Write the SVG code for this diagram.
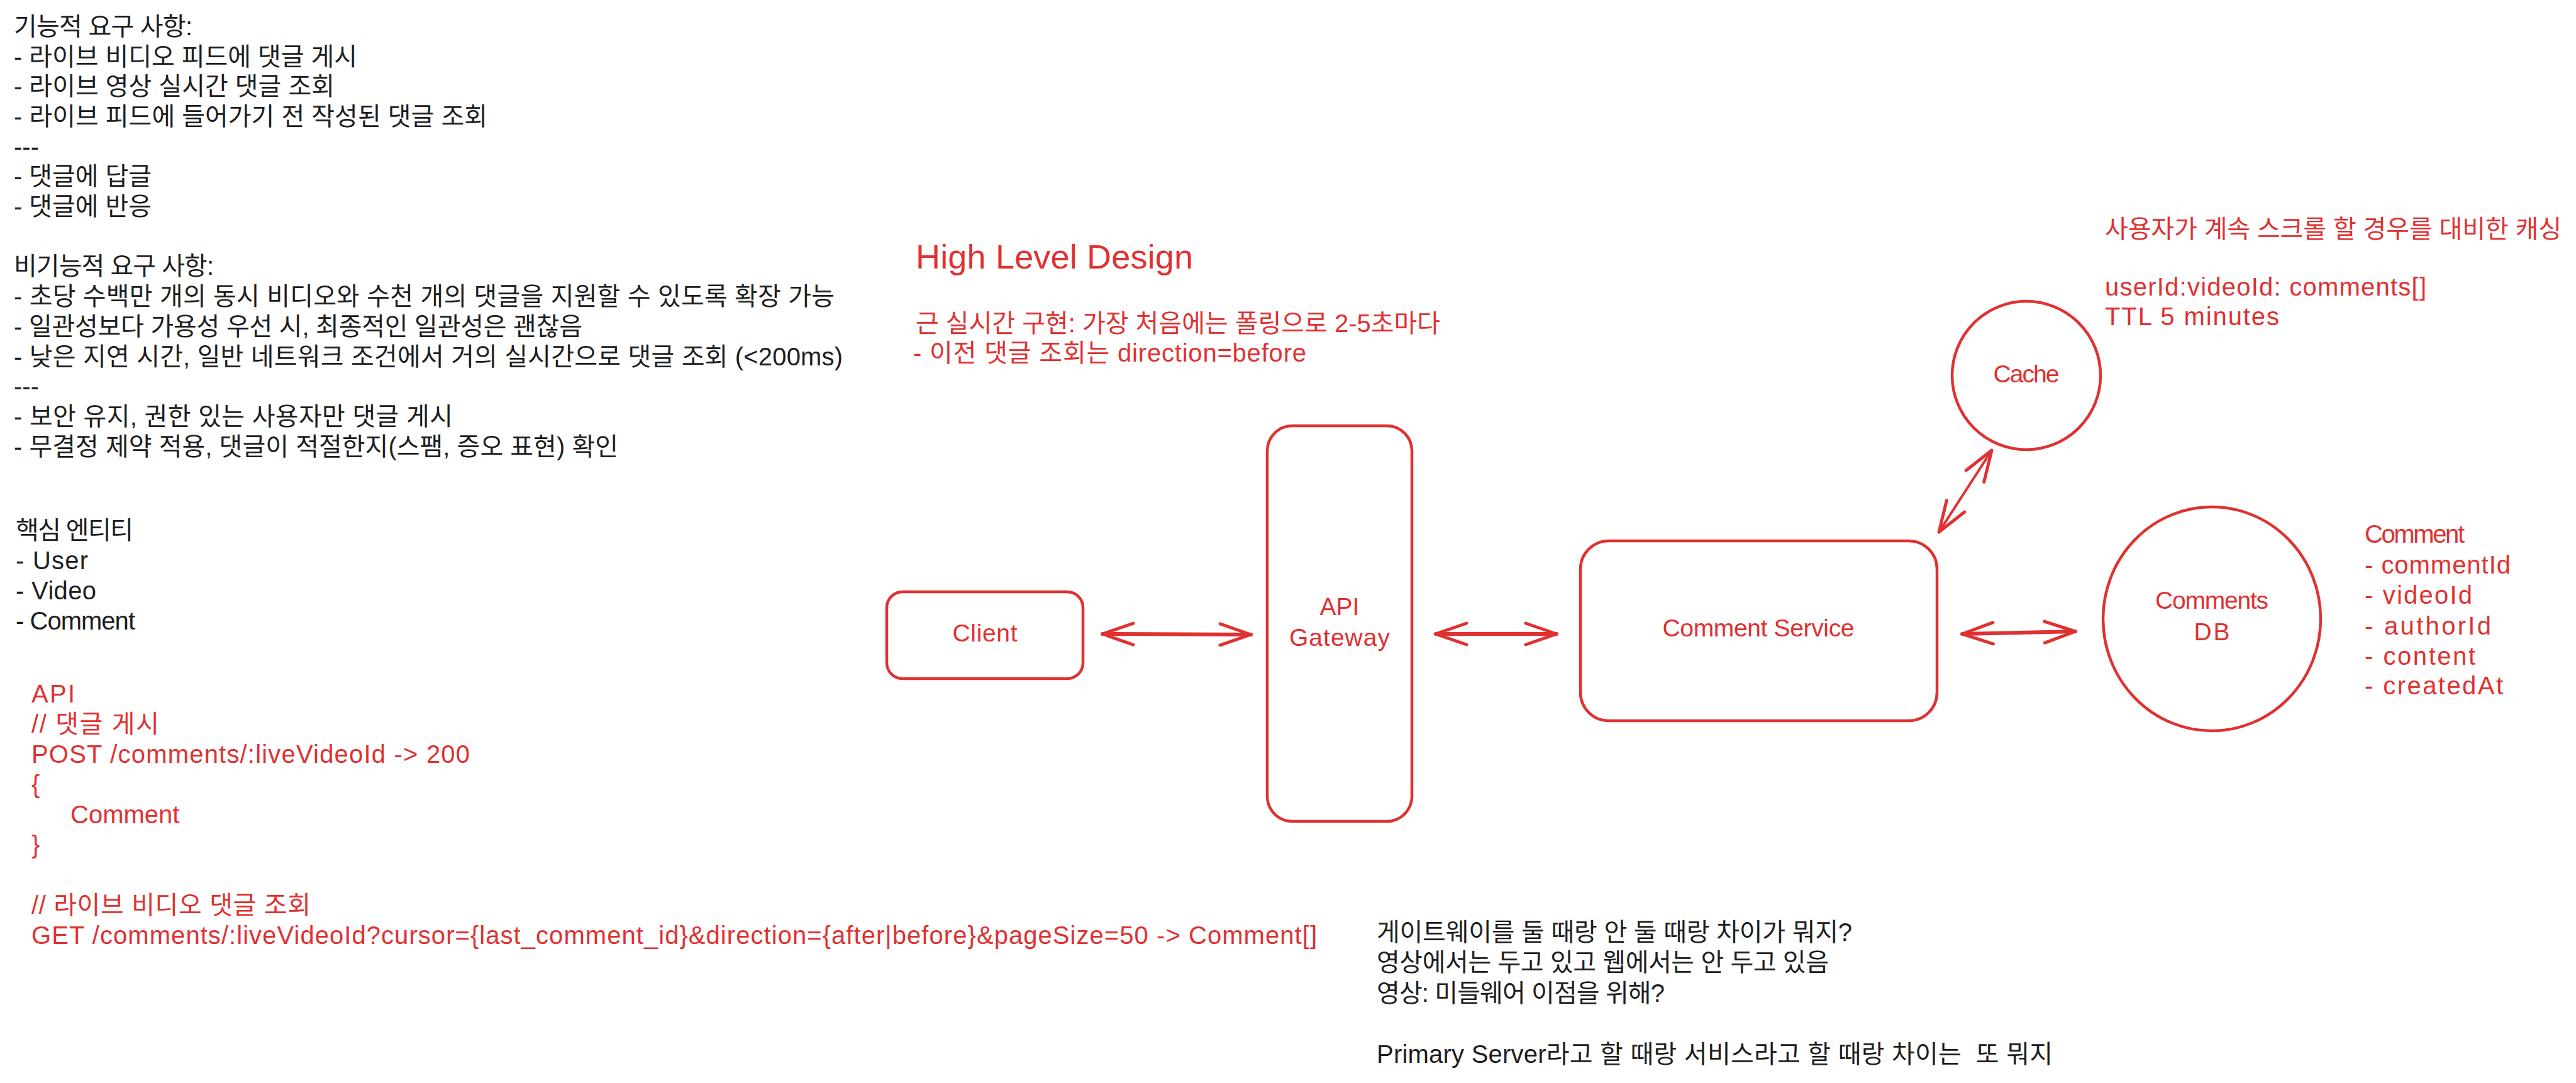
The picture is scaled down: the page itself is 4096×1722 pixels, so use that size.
<svg xmlns="http://www.w3.org/2000/svg" width="4096" height="1722" viewBox="0 0 4096 1722">
<defs>
<style>
.t{font-family:"Liberation Sans","Noto Sans CJK KR",sans-serif;font-size:40px;fill:#1e1e1e}
.r{fill:#e03131}
.lbl{font-family:"Liberation Sans","Noto Sans CJK KR",sans-serif;font-size:39px;fill:#e03131;text-anchor:middle}
.shape{fill:none;stroke:#e03131;stroke-width:4.5;stroke-linejoin:round}
.conn{fill:none;stroke:#e03131;stroke-width:6;stroke-linecap:round}
.thin{stroke-width:4}
</style>
<marker id="ah" markerUnits="userSpaceOnUse" markerWidth="70" markerHeight="50" viewBox="-60 -25 70 50" refX="0" refY="0" orient="auto-start-reverse" overflow="visible">
<path d="M-49,-17 L0,0 L-49,17" fill="none" stroke="#e03131" stroke-width="5" stroke-linecap="round" stroke-linejoin="round"/>
</marker>
</defs>
<rect width="4096" height="1722" fill="#ffffff"/>

<g id="requirements">
<text class="t" x="22" y="56" textLength="284" lengthAdjust="spacing">기능적 요구 사항:</text>
<text class="t" x="22" y="104" textLength="546" lengthAdjust="spacing">- 라이브 비디오 피드에 댓글 게시</text>
<text class="t" x="22" y="151" textLength="510" lengthAdjust="spacing">- 라이브 영상 실시간 댓글 조회</text>
<text class="t" x="22" y="199" textLength="753" lengthAdjust="spacing">- 라이브 피드에 들어가기 전 작성된 댓글 조회</text>
<text class="t" x="22" y="247">---</text>
<text class="t" x="22" y="294" textLength="219" lengthAdjust="spacing">- 댓글에 답글</text>
<text class="t" x="22" y="342" textLength="219" lengthAdjust="spacing">- 댓글에 반응</text>
<text class="t" x="22" y="437" textLength="318" lengthAdjust="spacing">비기능적 요구 사항:</text>
<text class="t" x="22" y="485" textLength="1305" lengthAdjust="spacing">- 초당 수백만 개의 동시 비디오와 수천 개의 댓글을 지원할 수 있도록 확장 가능</text>
<text class="t" x="22" y="533" textLength="904" lengthAdjust="spacing">- 일관성보다 가용성 우선 시, 최종적인 일관성은 괜찮음</text>
<text class="t" x="22" y="581" textLength="1318" lengthAdjust="spacing">- 낮은 지연 시간, 일반 네트워크 조건에서 거의 실시간으로 댓글 조회 (&lt;200ms)</text>
<text class="t" x="22" y="628">---</text>
<text class="t" x="22" y="676" textLength="698" lengthAdjust="spacing">- 보안 유지, 권한 있는 사용자만 댓글 게시</text>
<text class="t" x="22" y="724" textLength="961" lengthAdjust="spacing">- 무결정 제약 적용, 댓글이 적절한지(스팸, 증오 표현) 확인</text>
</g>

<g id="entities">
<text class="t" x="25" y="857" textLength="187" lengthAdjust="spacing">핵심 엔티티</text>
<text class="t" x="25" y="905" textLength="115" lengthAdjust="spacing">- User</text>
<text class="t" x="25" y="953" textLength="128" lengthAdjust="spacing">- Video</text>
<text class="t" x="25" y="1001" textLength="190" lengthAdjust="spacing">- Comment</text>
</g>

<g id="api">
<text class="t r" x="50" y="1117" textLength="69" lengthAdjust="spacing">API</text>
<text class="t r" x="50" y="1165" textLength="203" lengthAdjust="spacing">// 댓글 게시</text>
<text class="t r" x="50" y="1213" textLength="697" lengthAdjust="spacing">POST /comments/:liveVideoId -&gt; 200</text>
<text class="t r" x="50" y="1261">{</text>
<text class="t r" x="112" y="1309">Comment</text>
<text class="t r" x="50" y="1357">}</text>
<text class="t r" x="50" y="1453" textLength="444" lengthAdjust="spacing">// 라이브 비디오 댓글 조회</text>
<text class="t r" x="50" y="1501" textLength="2044" lengthAdjust="spacing">GET /comments/:liveVideoId?cursor={last_comment_id}&amp;direction={after|before}&amp;pageSize=50 -&gt; Comment[]</text>
</g>

<g id="hld-notes">
<text class="t r" x="1456" y="427" style="font-size:54px" textLength="441" lengthAdjust="spacing">High Level Design</text>
<text class="t r" x="1456" y="528" textLength="834" lengthAdjust="spacing">근 실시간 구현: 가장 처음에는 폴링으로 2-5초마다</text>
<text class="t r" x="1452" y="575" textLength="625" lengthAdjust="spacing">- 이전 댓글 조회는 direction=before</text>
</g>

<g id="cache-notes">
<text class="t r" x="3347" y="378" textLength="726" lengthAdjust="spacing">사용자가 계속 스크롤 할 경우를 대비한 캐싱</text>
<text class="t r" x="3347" y="470" textLength="511" lengthAdjust="spacing">userId:videoId: comments[]</text>
<text class="t r" x="3347" y="517" textLength="277" lengthAdjust="spacing">TTL 5 minutes</text>
</g>

<g id="questions">
<text class="t" x="2189" y="1496" textLength="756" lengthAdjust="spacing">게이트웨이를 둘 때랑 안 둘 때랑 차이가 뭐지?</text>
<text class="t" x="2189" y="1544" textLength="719" lengthAdjust="spacing">영상에서는 두고 있고 웹에서는 안 두고 있음</text>
<text class="t" x="2189" y="1593" textLength="458" lengthAdjust="spacing">영상: 미들웨어 이점을 위해?</text>
<text class="t" x="2189" y="1690" xml:space="preserve" textLength="1075" lengthAdjust="spacing">Primary Server라고 할 때랑 서비스라고 할 때랑 차이는  또 뭐지</text>
</g>

<g id="connectors">
<line class="conn" x1="1753" y1="1008" x2="1989" y2="1009" marker-start="url(#ah)" marker-end="url(#ah)"/>
<line class="conn" x1="2283" y1="1008" x2="2475" y2="1008" marker-start="url(#ah)" marker-end="url(#ah)"/>
<line class="conn" x1="3120" y1="1008" x2="3300" y2="1004" marker-start="url(#ah)" marker-end="url(#ah)"/>
<line class="conn thin" x1="3083" y1="846" x2="3167" y2="716" marker-start="url(#ah)" marker-end="url(#ah)"/>
</g>

<g id="client">
<rect class="shape" x="1410" y="941" width="312" height="138" rx="25"/>
<text class="lbl" x="1566" y="1020" textLength="103" lengthAdjust="spacing">Client</text>
</g>

<g id="api-gateway">
<rect class="shape" x="2015" y="677" width="230" height="629" rx="40"/>
<text class="lbl" x="2130" y="978">API</text>
<text class="lbl" x="2130" y="1027" textLength="160" lengthAdjust="spacing">Gateway</text>
</g>

<g id="comment-service">
<rect class="shape" x="2513" y="860" width="567" height="286" rx="45"/>
<text class="lbl" x="2796" y="1012" textLength="305" lengthAdjust="spacing">Comment Service</text>
</g>

<g id="cache">
<circle class="shape" cx="3222" cy="597" r="118"/>
<text class="lbl" x="3222" y="608" textLength="105" lengthAdjust="spacing">Cache</text>
</g>

<g id="comments-db">
<ellipse class="shape" cx="3517" cy="984" rx="173" ry="178"/>
<text class="lbl" x="3517" y="968" textLength="180" lengthAdjust="spacing">Comments</text>
<text class="lbl" x="3517" y="1018" textLength="57" lengthAdjust="spacing">DB</text>
</g>

<g id="comment-schema">
<text class="t r" x="3760" y="863" textLength="159" lengthAdjust="spacing">Comment</text>
<text class="t r" x="3760" y="912" textLength="232" lengthAdjust="spacing">- commentId</text>
<text class="t r" x="3760" y="960" textLength="171" lengthAdjust="spacing">- videoId</text>
<text class="t r" x="3760" y="1009" textLength="201" lengthAdjust="spacing">- authorId</text>
<text class="t r" x="3760" y="1057" textLength="176" lengthAdjust="spacing">- content</text>
<text class="t r" x="3760" y="1104" textLength="220" lengthAdjust="spacing">- createdAt</text>
</g>
</svg>
